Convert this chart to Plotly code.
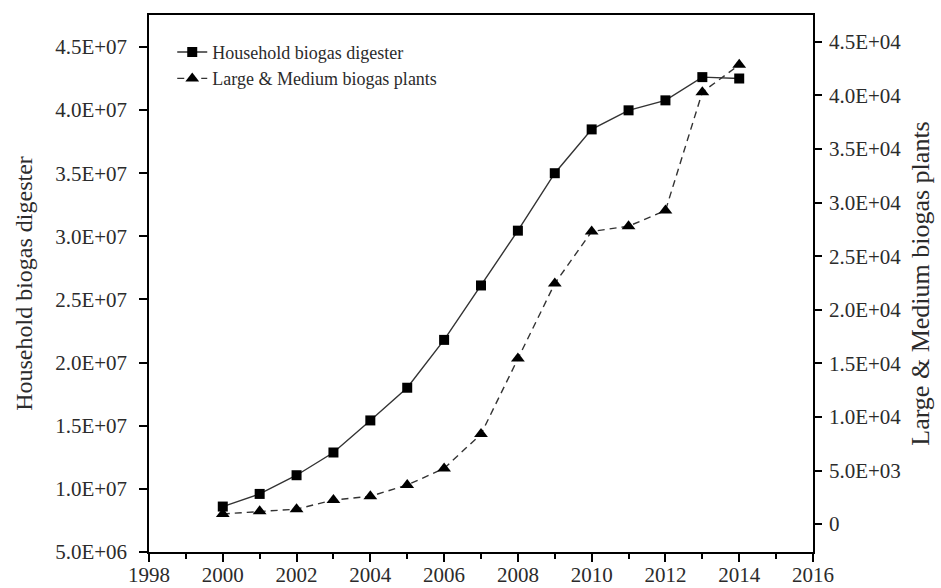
import plotly.graph_objects as go

# Biogas development in China, 2000-2014
years = [2000, 2001, 2002, 2003, 2004, 2005, 2006, 2007,
         2008, 2009, 2010, 2011, 2012, 2013, 2014]
household = [8.6e6, 9.6e6, 1.108e7, 1.288e7, 1.542e7, 1.801e7, 2.18e7, 2.611e7,
             3.045e7, 3.5e7, 3.847e7, 3.998e7, 4.077e7, 4.261e7, 4.25e7]
large_medium = [950, 1200, 1400, 2250, 2600, 3650, 5200, 8400,
                15450, 22450, 27300, 27800, 29250, 40300, 42850]

left_tickvals = [5e6, 1e7, 1.5e7, 2e7, 2.5e7, 3e7, 3.5e7, 4e7, 4.5e7]
left_ticktext = ["5.0E+06", "1.0E+07", "1.5E+07", "2.0E+07", "2.5E+07",
                 "3.0E+07", "3.5E+07", "4.0E+07", "4.5E+07"]
right_tickvals = [0, 5000, 10000, 15000, 20000, 25000, 30000, 35000, 40000, 45000]
right_ticktext = ["0", "5.0E+03", "1.0E+04", "1.5E+04", "2.0E+04",
                  "2.5E+04", "3.0E+04", "3.5E+04", "4.0E+04", "4.5E+04"]

FONT = "Liberation Serif"
INK = "#2b2b2b"

fig = go.Figure()
fig.add_trace(go.Scatter(
    x=years, y=household, name="Household biogas digester",
    mode="lines+markers",
    line=dict(color="#333333", width=1.4, dash="solid"),
    marker=dict(symbol="square", size=10, color="black"),
    yaxis="y",
))
fig.add_trace(go.Scatter(
    x=years, y=large_medium, name="Large & Medium biogas plants",
    mode="lines+markers",
    line=dict(color="#333333", width=1.4, dash="7px,5px"),
    marker=dict(symbol="triangle-up", size=12, color="black"),
    yaxis="y2",
))

axis_common = dict(
    showline=True, linecolor="black", linewidth=1.5,
    ticks="outside", tickcolor="black", tickwidth=1.5,
    showgrid=False, zeroline=False,
    tickfont=dict(family=FONT, size=21, color=INK),
)

fig.update_layout(
    width=941, height=588,
    margin=dict(l=149, r=128, t=15, b=36, autoexpand=False),
    paper_bgcolor="white", plot_bgcolor="white",
    font=dict(family=FONT, color=INK),
    showlegend=True,
    legend=dict(
        x=0.035, y=0.965, xanchor="left", yanchor="top",
        bgcolor="rgba(0,0,0,0)", borderwidth=0,
        font=dict(family=FONT, size=18, color=INK),
        itemwidth=30,
    ),
    xaxis=dict(
        **axis_common,
        range=[1998, 2016], dtick=2, tick0=1998, ticklen=8,
        ticklabelstandoff=-5,
        mirror=True,
        minor=dict(ticks="outside", dtick=1, ticklen=5,
                   tickcolor="black", tickwidth=1.5),
    ),
    yaxis=dict(
        **axis_common,
        range=[5e6, 4.753e7], tickmode="array",
        tickvals=left_tickvals, ticktext=left_ticktext, ticklen=8,
        ticklabelstandoff=8,
        title=dict(text="Household biogas digester",
                   font=dict(family=FONT, size=24, color=INK), standoff=16),
    ),
    yaxis2=dict(
        **axis_common,
        overlaying="y", side="right",
        range=[-2600, 47500], tickmode="array",
        tickvals=right_tickvals, ticktext=right_ticktext, ticklen=7,
        ticklabelstandoff=3,
        title=dict(text="Large & Medium biogas plants",
                   font=dict(family=FONT, size=26, color=INK), standoff=10),
    ),
)

fig.write_html("out.html")
